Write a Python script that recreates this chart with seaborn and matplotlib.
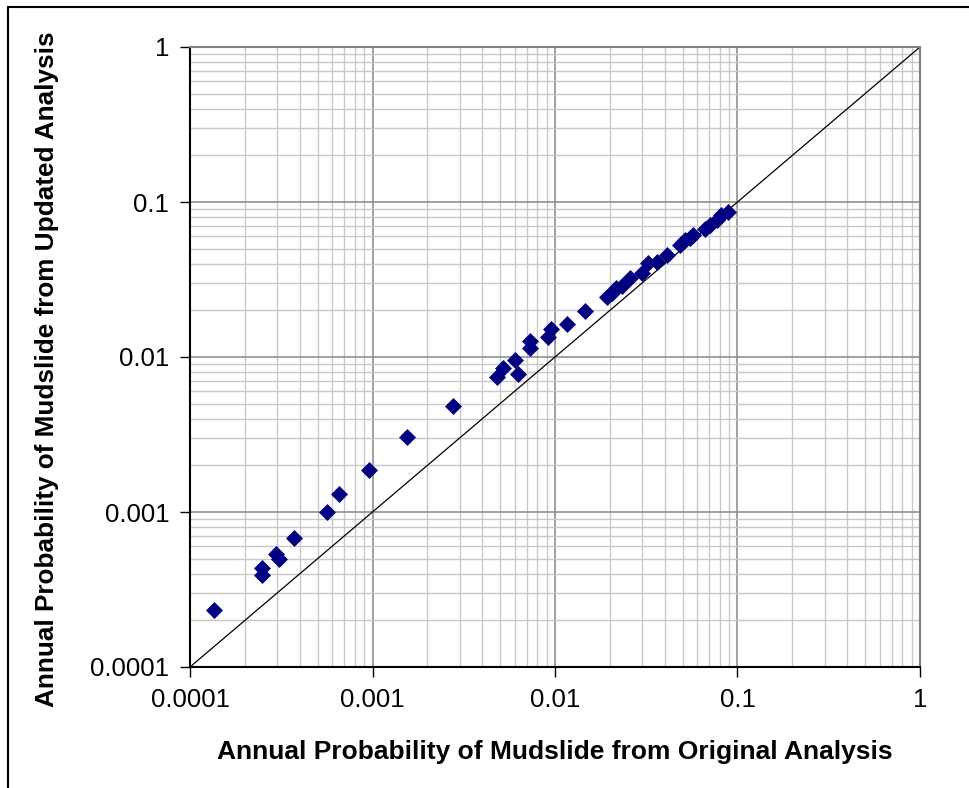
import numpy as np
import pandas as pd
import matplotlib
matplotlib.use('Agg')
import matplotlib.pyplot as plt
import seaborn as sns
from matplotlib.ticker import LogLocator, FixedLocator, NullFormatter

# values
original = [1.36e-4, 2.49e-4, 2.49e-4, 2.95e-4, 3.07e-4, 3.73e-4, 5.61e-4, 6.55e-4,
            9.53e-4, 1.54e-3, 2.75e-3, 4.79e-3, 5.17e-3, 6.30e-3, 6.04e-3, 7.30e-3,
            7.30e-3, 9.18e-3, 9.46e-3, 1.16e-2, 1.46e-2, 1.92e-2, 2.04e-2, 2.17e-2,
            2.33e-2, 2.58e-2, 2.99e-2, 3.24e-2, 3.61e-2, 4.09e-2, 4.84e-2, 5.16e-2,
            5.50e-2, 5.72e-2, 6.64e-2, 7.07e-2, 7.70e-2, 8.17e-2, 8.87e-2]
updated = [2.33e-4, 4.33e-4, 3.92e-4, 5.36e-4, 5.00e-4, 6.76e-4, 9.96e-4, 1.31e-3,
           1.87e-3, 3.06e-3, 4.83e-3, 7.46e-3, 8.45e-3, 7.73e-3, 9.57e-3, 1.14e-2,
           1.26e-2, 1.35e-2, 1.51e-2, 1.63e-2, 1.98e-2, 2.45e-2, 2.60e-2, 2.77e-2,
           2.86e-2, 3.22e-2, 3.47e-2, 4.03e-2, 4.13e-2, 4.55e-2, 5.28e-2, 5.68e-2,
           5.90e-2, 6.10e-2, 6.67e-2, 7.10e-2, 7.67e-2, 8.25e-2, 8.67e-2]
tick_vals = [0.0001, 0.001, 0.01, 0.1, 1]
tick_labels = ['0.0001', '0.001', '0.01', '0.1', '1']

df = pd.DataFrame({'original': original, 'updated': updated})

sns.set_style('white')
plt.rcParams['font.family'] = ['Liberation Sans', 'DejaVu Sans']
plt.rcParams['text.color'] = 'black'
plt.rcParams['axes.labelcolor'] = 'black'
plt.rcParams['xtick.color'] = 'black'
plt.rcParams['ytick.color'] = 'black'

fig = plt.figure(figsize=(9.69, 7.88), dpi=100)
ax = fig.add_axes([190/969, 1 - 667/788, 730/969, 620/788])

ax.set_xscale('log')
ax.set_yscale('log')
ax.set_xlim(1e-4, 1)
ax.set_ylim(1e-4, 1)

# grid
ax.xaxis.set_minor_locator(LogLocator(base=10, subs=np.arange(2, 10)))
ax.yaxis.set_minor_locator(LogLocator(base=10, subs=np.arange(2, 10)))
ax.xaxis.set_minor_formatter(NullFormatter())
ax.yaxis.set_minor_formatter(NullFormatter())
ax.grid(which='minor', color='#c8c8c8', lw=1.0)
ax.grid(which='major', color='#909090', lw=1.2)
ax.set_axisbelow(True)

# 1:1 line
ax.plot([1e-4, 1], [1e-4, 1], color='black', lw=0.9, zorder=2)

sns.scatterplot(data=df, x='original', y='updated', marker='D', s=75,
                color='#000080', edgecolor='#000080', linewidth=0, ax=ax, zorder=3)

ax.xaxis.set_major_locator(FixedLocator(tick_vals))
ax.yaxis.set_major_locator(FixedLocator(tick_vals))
ax.set_xticklabels(tick_labels, fontsize=18.5)
ax.set_yticklabels(tick_labels, fontsize=18.5)
ax.tick_params(which='major', direction='out', length=7, width=1, color='black', pad=8, left=True, bottom=True)
ax.tick_params(which='minor', length=0)

for s in ['left', 'bottom']:
    ax.spines[s].set_color('black')
    ax.spines[s].set_linewidth(1.5)
for s in ['top', 'right']:
    ax.spines[s].set_color('#808080')
    ax.spines[s].set_linewidth(1.5)

ax.set_xlabel('Annual Probability of Mudslide from Original Analysis',
              fontsize=19, fontweight='bold', labelpad=20)
ax.set_ylabel('Annual Probability of Mudslide from Updated Analysis',
              fontsize=18.8, fontweight='bold')
ax.yaxis.set_label_coords(-131/730, 0.48)

# outer frame (right and bottom edges fall outside the image)
fig.patches.append(plt.Rectangle((8/969, -0.01), 1.0, 1 - 7/788 + 0.01,
                                 transform=fig.transFigure, fill=False,
                                 edgecolor='black', lw=1.5))

fig.savefig('out.png', dpi=100)
